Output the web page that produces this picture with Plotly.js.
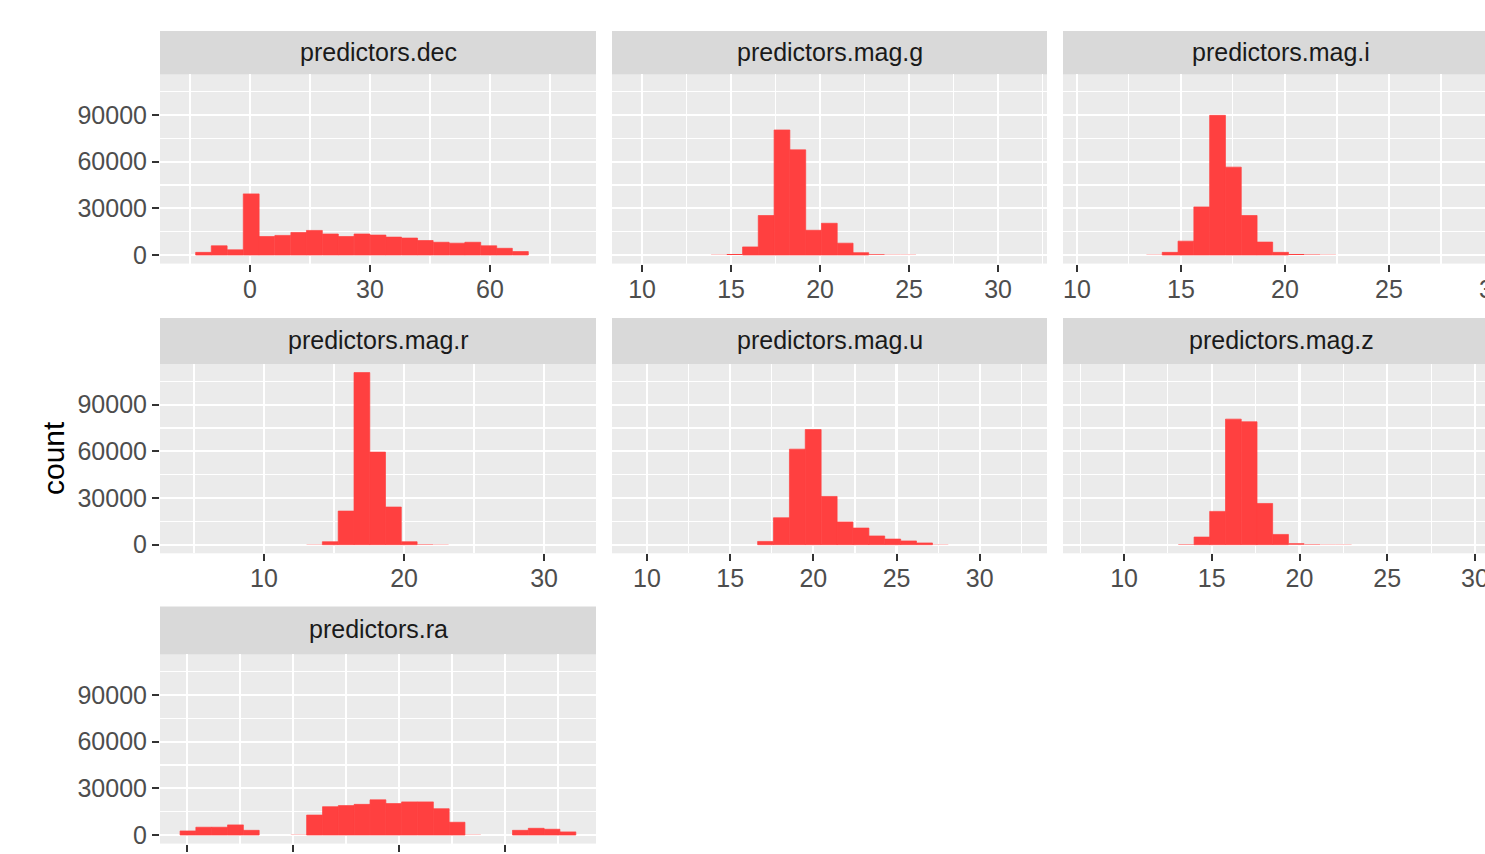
<!DOCTYPE html>
<html>
<head>
<meta charset="utf-8">
<script src="https://cdn.plot.ly/plotly-3.0.1.min.js"></script>
<style>
html,body{margin:0;padding:0;overflow:hidden;background:#fff;}
#chart{width:1510px;height:880px;}
</style>
</head>
<body>
<div id="chart"></div>
<script>
// ---------------- data ----------------
const panelNames = ["predictors.dec","predictors.mag.g","predictors.mag.i","predictors.mag.r","predictors.mag.u","predictors.mag.z","predictors.ra"];

const decCenters = [-11.6,-7.7,-3.7,0.3,4.2,8.2,12.2,16.1,20.1,24.0,28.0,32.0,35.9,39.9,43.8,47.8,51.8,55.7,59.7,63.6,67.6];
const decCounts  = [1700,5900,3300,39300,11900,12600,14500,15800,13500,11900,13500,12800,11500,10900,9300,8200,7600,8200,5900,4300,2200];

const magGCenters = [14.32,15.20,16.09,16.97,17.86,18.75,19.63,20.52,21.41,22.29,23.18,24.06,24.95];
const magGCounts  = [100,700,5200,25400,80400,67600,15900,20400,7600,1500,450,200,150];

const magICenters = [13.72,14.48,15.24,16.00,16.76,17.52,18.28,19.03,19.79,20.55,21.31,22.07,22.83,23.59,24.35];
const magICounts  = [150,1700,8900,30900,89800,56500,25400,8300,1700,650,250,120,60,30,60];

const magRCenters = [13.60,14.73,15.86,16.99,18.11,19.24,20.37,21.50,22.62];
const magRCounts  = [150,1900,21600,110600,59500,24200,1900,350,100];

const magUCenters = [17.13,18.08,19.04,19.99,20.95,21.90,22.86,23.81,24.77,25.72,26.68,27.63];
const magUCounts  = [2100,17300,61400,74000,31000,14600,10700,5600,3600,2400,1100,200];

const magZCenters = [13.54,14.44,15.33,16.23,17.13,18.02,18.92,19.82,20.72,21.62,22.52];
const magZCounts  = [300,4900,21400,80700,79000,26500,6600,850,300,150,80];

// empty bins (count 0) are not drawn
const raCenters = [0.9,15.8,30.7,45.7,60.6,105.4,120.3,135.3,150.2,165.1,180.1,195.0,209.9,224.9,239.8,254.7,269.7,314.5,329.4,344.3,359.3];
const raCounts  = [2600,5000,5000,6500,3000,200,12800,18200,18900,19700,22600,20200,21300,21300,16900,8200,200,3000,4300,3700,2000];

const binWidths = [3.96, 0.886, 0.759, 1.127, 0.955, 0.897, 14.93];

const yTickVals = [0,30000,60000,90000];
const yTickText = ["0","30000","60000","90000"];
const yMinorVals = [15000,45000,75000,105000];

const xMajor = [[0,30,60],[10,15,20,25,30],[10,15,20,25,30],[10,20,30],[10,15,20,25,30],[10,15,20,25,30],[0,100,200,300]];
const xMinor = [[-15,15,45,75],[12.5,17.5,22.5,27.5,32.5],[12.5,17.5,22.5,27.5],[5,15,25],[12.5,17.5,22.5,27.5,32.5],[7.5,12.5,17.5,22.5,27.5],[50,150,250,350]];
const xRanges = [[-22.5,86.5],[8.31,32.75],[9.33,30.29],[2.57,33.71],[7.9,34.04],[6.52,31.37],[-25.5,385.8]];

const panelCenters = [decCenters,magGCenters,magICenters,magRCenters,magUCenters,magZCenters,raCenters];
const panelCounts  = [decCounts,magGCounts,magICounts,magRCounts,magUCounts,magZCounts,raCounts];

// ---------------- layout geometry (pixels) ----------------
const W = 1510, H = 880;
const colX = [[160,596],[612,1047],[1063,1499]];
const rowPanel = [[74.4,263.6],[364,553.3],[654.4,843.6]];
const rowStrip = [[31,74.4],[318,364],[606.5,654.4]];
const yRange = [-5530,116130];

const FONT = '"Liberation Sans", Arial, Helvetica, sans-serif';
const BAR = '#FF4040';
const px = v => v / W;
const py = v => 1 - v / H;

const traces = [];
const layout = {
  width: W, height: H,
  margin: {l:0,r:0,t:0,b:0,pad:0},
  paper_bgcolor: '#FFFFFF',
  plot_bgcolor: '#EBEBEB',
  showlegend: false,
  hovermode: false,
  font: {family: FONT, size: 25, color: '#4D4D4D'},
  shapes: [],
  annotations: []
};

panelNames.forEach((name, i) => {
  const row = Math.floor(i / 3), col = i % 3;
  const n = i + 1;
  const xa = n === 1 ? 'xaxis' : 'xaxis' + n;
  const ya = n === 1 ? 'yaxis' : 'yaxis' + n;
  const xr = n === 1 ? 'x' : 'x' + n;
  const yr = n === 1 ? 'y' : 'y' + n;

  traces.push({
    type: 'bar',
    x: panelCenters[i],
    y: panelCounts[i],
    width: binWidths[i],
    xaxis: xr, yaxis: yr,
    // thin same-colour outline only on visible bars, to hide seams between adjacent bins
    marker: {color: BAR, line: {width: panelCounts[i].map(c => c >= 1000 ? 0.7 : 0), color: BAR}},
    hoverinfo: 'skip'
  });

  layout[xa] = {
    domain: [px(colX[col][0]), px(colX[col][1])],
    anchor: yr,
    range: xRanges[i],
    tickmode: 'array',
    tickvals: xMajor[i],
    ticktext: xMajor[i].map(String),
    ticks: 'outside', ticklen: 7, tickwidth: 2, tickcolor: '#333333',
    ticklabelstandoff: -4,
    tickfont: {family: FONT, size: 25, color: '#4D4D4D'},
    showgrid: true, gridcolor: '#FFFFFF', gridwidth: 2.2,
    minor: {tickmode: 'array', tickvals: xMinor[i], showgrid: true, gridcolor: '#FFFFFF', gridwidth: 1.1, ticks: ''},
    zeroline: false, showline: false, fixedrange: true
  };

  layout[ya] = {
    domain: [py(rowPanel[row][1]), py(rowPanel[row][0])],
    anchor: xr,
    range: yRange,
    tickmode: 'array',
    tickvals: yTickVals,
    ticktext: yTickText,
    showticklabels: col === 0,
    ticks: col === 0 ? 'outside' : '',
    ticklen: 7, tickwidth: 2, tickcolor: '#333333',
    tickfont: {family: FONT, size: 25, color: '#4D4D4D'},
    showgrid: true, gridcolor: '#FFFFFF', gridwidth: 2.2,
    minor: {tickmode: 'array', tickvals: yMinorVals, showgrid: true, gridcolor: '#FFFFFF', gridwidth: 1.1, ticks: ''},
    zeroline: false, showline: false, fixedrange: true
  };

  layout.shapes.push({
    type: 'rect', xref: 'paper', yref: 'paper',
    x0: px(colX[col][0]), x1: px(colX[col][1]),
    y0: py(rowStrip[row][1]), y1: py(rowStrip[row][0]),
    fillcolor: '#D9D9D9', line: {width: 0}, layer: 'below'
  });

  layout.annotations.push({
    xref: 'paper', yref: 'paper',
    x: px((colX[col][0] + colX[col][1]) / 2),
    y: py((rowStrip[row][0] + rowStrip[row][1]) / 2 - 1),
    xanchor: 'center', yanchor: 'middle',
    text: name, showarrow: false,
    font: {family: FONT, size: 25, color: '#1A1A1A'}
  });
});

layout.annotations.push({
  xref: 'paper', yref: 'paper',
  x: px(53), y: py(458),
  xanchor: 'center', yanchor: 'middle',
  text: 'count', textangle: -90, showarrow: false,
  font: {family: FONT, size: 30, color: '#000000'}
});

Plotly.newPlot('chart', traces, layout, {staticPlot: true, displayModeBar: false});
</script>
</body>
</html>
